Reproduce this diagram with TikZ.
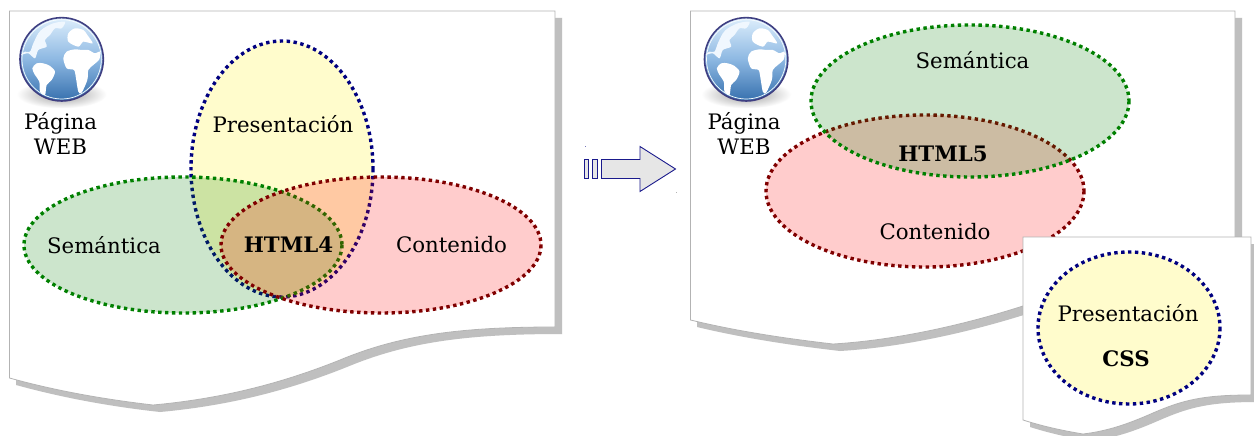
\documentclass[tikz,border=0pt]{standalone}
\usepackage{fontspec}
\setmainfont{DejaVu Serif}
\begin{document}
\begin{tikzpicture}[x=1pt,y=-1pt,
  shadowfill/.style={fill=shadowgray,draw=none},
  pagebox/.style={fill=white,draw=pageline,line width=.8pt},
  venn/.style={line width=3.4pt,dash pattern=on 3.4pt off 3.5pt},
  vgreen/.style={venn,draw={rgb,255:red,0;green,128;blue,0}},
  vred/.style={venn,draw={rgb,255:red,128;green,0;blue,0}},
  vblue/.style={venn,draw={rgb,255:red,0;green,0;blue,128}},
  lbl/.style={font=\fontsize{21.3}{25}\selectfont,text=black,align=center,inner sep=0pt},
  blbl/.style={lbl,font=\fontsize{21.3}{25}\selectfont\bfseries},
  arrowpart/.style={fill=arrowgray,draw=arrowblue,line width=.9pt,line join=miter},
  land/.style={fill=white,draw=none},
  paleland/.style={fill=paleblue,draw=none}
]
\definecolor{shadowgray}{HTML}{BFBFBF}
\definecolor{pageline}{HTML}{B3B3B3}
\definecolor{arrowgray}{HTML}{E6E6E6}
\definecolor{arrowblue}{HTML}{1A1A8C}
\definecolor{paleblue}{HTML}{F0F7FE}
\definecolor{ringblue}{HTML}{3F3F82}
\definecolor{oceanlight}{HTML}{DDEEFC}
\definecolor{oceanmid}{HTML}{8DB8E2}
\definecolor{oceandark}{HTML}{3670AE}
\newcommand{\globeicon}[1]{%
  \begin{scope}[shift={(#1,0)},x=.3333pt,y=-.3333pt]
    \shade[inner color=black!40,outer color=white] (185,283) ellipse (135 and 42);
    \shade[top color=oceanlight,bottom color=oceandark,middle color=oceanmid] (185,178) circle (125pt/3);
    \fill[paleland] plot[smooth cycle,tension=.5] coordinates {(62,165) (75,155) (90,155) (100,130) (115,100) (130,85) (160,70) (195,65) (185,85) (165,85) (150,105) (135,120) (140,140) (115,150) (105,175) (85,160)};
    \fill[land] plot[smooth cycle,tension=.5] coordinates {(205,100) (225,85) (250,90) (262,105) (278,130) (250,125) (235,140) (205,125)};
    \fill[land] plot[smooth cycle,tension=.5] coordinates {(97,205) (110,190) (130,190) (150,198) (165,215) (155,240) (140,255) (135,285) (120,275) (118,245) (105,225)};
    \fill[land] plot[smooth cycle,tension=.5] coordinates {(190,175) (200,155) (225,148) (245,150) (265,150) (285,160) (300,155) (298,178) (280,195) (265,210) (262,240) (245,278) (235,275) (228,235) (222,210) (200,205)};
    \draw[white!80!oceanlight,line width=.7pt] (185,178) circle (119pt/3);
    \draw[ringblue,line width=1.6pt] (185,178) circle (125pt/3);
  \end{scope}}
\useasboundingbox (0,0) rectangle (1254,436);
\clip (0,0) rectangle (1254,436);
\fill[white] (0,0) rectangle (1254,436);

% left page
\path[shadowfill] (16.5,18)--(562,18)--(562,334) .. controls (467,334) and (407,342) .. (347,367) .. controls (297,387) and (237,405) .. (160,412) .. controls (115,407) and (67,399) .. (16,385) -- cycle;
\path[pagebox] (9.5,11)--(555,11)--(555,327) .. controls (460,327) and (400,335) .. (340,360) .. controls (290,380) and (230,398) .. (153,405) .. controls (110,400) and (60,392) .. (9.5,378) -- cycle;

% left venn
\fill[yellow,fill opacity=.2] (282,169) ellipse (91 and 128);
\draw[vblue] (282,169) ellipse (91 and 128);
\fill[green!50!black,fill opacity=.2] (183,245) ellipse (159 and 68);
\draw[vgreen] (183,245) ellipse (159 and 68);
\fill[red,fill opacity=.2] (381,245) ellipse (160 and 68);
\draw[vred] (381,245) ellipse (160 and 68);

\globeicon{0}
\node[lbl] (pag1) at (60.5,133) {Página\\[0pt]WEB};
\node[lbl] (pres1) at (283,124) {Presentación};
\node[lbl] (sem1) at (104,245) {Semántica};
\node[lbl] (cont1) at (451.5,245) {Contenido};
\node[blbl] (h4) at (288.5,245) {HTML4};

% arrow
\fill[arrowblue!60] (584.5,145.5) rectangle (585.5,146.5);
\fill[pageline] (675.5,191.5) rectangle (676.5,192.5);
\path[arrowpart] (584.5,159.5) rectangle (588.5,178.5);
\path[arrowpart] (592.5,159.5) rectangle (597.5,178.5);
\path[arrowpart] (601.5,159.5)--(640,159.5)--(640,146.5)--(675.5,169)--(640,191.5)--(640,178.5)--(601.5,178.5)--cycle;

% right page
\path[shadowfill] (697.5,18)--(1242,18)--(1242,277)--(1030,313) .. controls (977,330) and (907,347) .. (840,351) .. controls (797,346) and (747,339) .. (697,327) -- cycle;
\path[pagebox] (690.5,11)--(1235,11)--(1235,270)--(1023,306) .. controls (970,323) and (900,340) .. (833,344) .. controls (790,339) and (740,332) .. (690.5,320) -- cycle;

% right venn
\fill[red,fill opacity=.2] (925,191) ellipse (159 and 76);
\draw[vred] (925,191) ellipse (159 and 76);
\fill[green!50!black,fill opacity=.2] (970,101) ellipse (159 and 76);
\draw[vgreen] (970,101) ellipse (159 and 76);

\globeicon{684.5}
\node[lbl] (pag2) at (744,133) {Página\\[0pt]WEB};
\node[lbl] (sem2) at (972.5,60) {Semántica};
\node[lbl] (cont2) at (935,232) {Contenido};
\node[blbl] (h5) at (943,154) {HTML5};

% small page
\path[shadowfill] (1030,244)--(1258,244)--(1258,402) .. controls (1210,402) and (1190,407) .. (1160,420) .. controls (1135,431) and (1115,438) .. (1090,441) .. controls (1072,438) and (1052,434) .. (1030,427) -- cycle;
\path[pagebox] (1023,237)--(1251,237)--(1251,395) .. controls (1203,395) and (1183,400) .. (1153,413) .. controls (1128,424) and (1108,431) .. (1083,434) .. controls (1065,431) and (1045,427) .. (1023,420) -- cycle;
\fill[yellow,fill opacity=.2] (1129,328) ellipse (91 and 76);
\draw[vblue] (1129,328) ellipse (91 and 76);
\node[lbl] (pres2) at (1128,313.5) {Presentación};
\node[blbl] (css) at (1126,359) {CSS};
\end{tikzpicture}
\end{document}
